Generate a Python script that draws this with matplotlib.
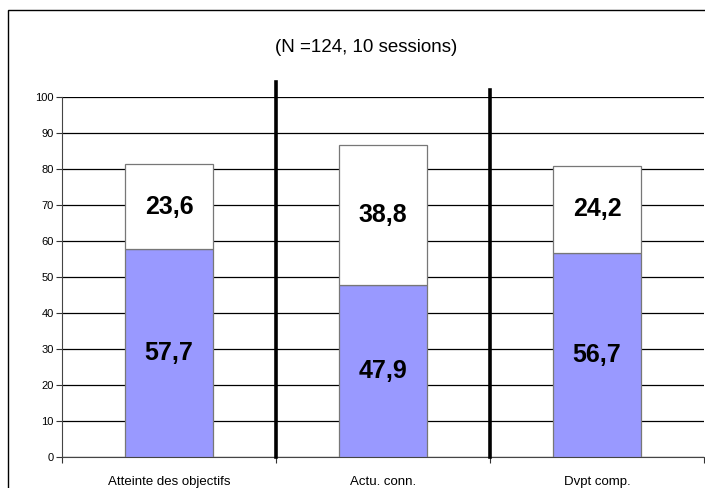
import matplotlib
matplotlib.use("Agg")
import matplotlib.pyplot as plt
from matplotlib.patches import Rectangle
import numpy as np

plt.rcParams['font.family'] = ['Liberation Sans', 'DejaVu Sans']

categories = ["Atteinte des objectifs", "Actu. conn.", "Dvpt comp."]
bottom_vals = [57.7, 47.9, 56.7]
top_vals = [23.6, 38.8, 24.2]
bottom_labels = ["57,7", "47,9", "56,7"]
top_labels = ["23,6", "38,8", "24,2"]
yticks = list(range(0, 101, 10))
title = "(N =124, 10 sessions)"

fig = plt.figure(figsize=(7.05, 4.88), dpi=100)
fig.patch.set_facecolor("white")
# outer frame
fig.patches.append(Rectangle((8/705, -0.05), 1.2, 1 - 10/488 + 0.05,
                             transform=fig.transFigure, fill=False,
                             edgecolor="black", linewidth=1.0))

ax = fig.add_axes([62/705, 1 - 457/488, 642/705, (457-97)/488])
x = np.arange(1, len(categories) + 1)
w = 0.41
ax.bar(x, bottom_vals, width=w, color="#9999FF", edgecolor="#777777", linewidth=0.9, zorder=3)
ax.bar(x, top_vals, width=w, bottom=bottom_vals, color="white", edgecolor="#777777", linewidth=0.9, zorder=3)

for xi, b, t, bl, tl in zip(x, bottom_vals, top_vals, bottom_labels, top_labels):
    ax.text(xi, b / 2, bl, ha="center", va="center", fontsize=18, fontweight="bold", zorder=4)
    ax.text(xi, b + t / 2, tl, ha="center", va="center", fontsize=18, fontweight="bold", zorder=4)

ax.set_xlim(0.5, len(categories) + 0.5)
ax.set_ylim(0, 100)
ax.set_yticks(yticks)
ax.yaxis.grid(True, color="black", linewidth=0.9, zorder=0)
ax.set_axisbelow(True)
ax.tick_params(axis="y", direction="out", length=4, width=0.8, labelsize=8, pad=2, color="#333333")
ax.set_xticks(x)
ax.set_xticklabels(categories, fontsize=9.5)
ax.tick_params(axis="x", which="major", length=0, pad=14)
ax.set_xticks(np.arange(0.5, len(categories) + 1, 1.0), minor=True)
ax.tick_params(axis="x", which="minor", direction="out", length=4, width=0.8, color="#333333")

for s in ["top", "right"]:
    ax.spines[s].set_visible(False)
ax.spines["left"].set_color("#444444")
ax.spines["bottom"].set_color("#444444")

# thick separators
ax.plot([1.5, 1.5], [0, 104.2], color="black", linewidth=2.6, clip_on=False, zorder=5)
ax.plot([2.5, 2.5], [0, 101.9], color="black", linewidth=2.6, clip_on=False, zorder=5)

fig.text(366/705, 1 - 48/488, title, ha="center", va="center", fontsize=13.5)

fig.savefig("out.png", dpi=100, facecolor="white")
